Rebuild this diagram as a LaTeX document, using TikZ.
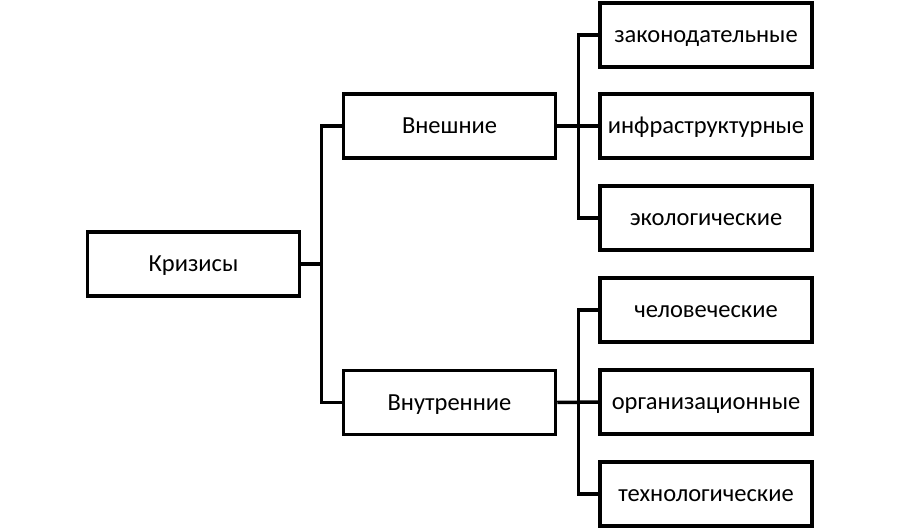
\documentclass[tikz,border=0pt]{standalone}
\usepackage{fontspec}
\setmainfont{Carlito}
\begin{document}
\begin{tikzpicture}[x=1pt,y=-1pt,
  box/.style={draw,line width=3.5pt,minimum width=212pt,minimum height=64pt,inner sep=0pt,text height=17pt,text depth=2pt,font=\fontsize{24.5pt}{29pt}\selectfont},
  conn/.style={line width=3.5pt}]
\useasboundingbox (0,0) rectangle (900,529);
\node[box] (k) at (193.5,264) {Кризисы};
\node[box] (v) at (449.5,126) {Внешние};
\node[box] (w) at (449.5,402.5) {Внутренние};
\node[box] (a1) at (706,35) {законодательные};
\node[box] (a2) at (706,126) {инфраструктурные};
\node[box] (a3) at (706,218) {экологические};
\node[box] (b1) at (706,310) {человеческие};
\node[box] (b2) at (706,402) {организационные};
\node[box] (b3) at (706,494) {технологические};
\coordinate (j0) at (321.5,264);
\coordinate (j1) at (578.5,126);
\coordinate (j2) at (578.5,402.5);
\draw[conn] (k.east) -- (j0);
\draw[conn] (j0) |- (v.west);
\draw[conn] (j0) |- (w.west);
\draw[conn] (v.east) -- (a2.west);
\draw[conn] (j1) |- (a1.west);
\draw[conn] (j1) |- (a3.west);
\draw[conn] (w.east) -- (b2.west);
\draw[conn] (j2) |- (b1.west);
\draw[conn] (j2) |- (b3.west);
\end{tikzpicture}
\end{document}
